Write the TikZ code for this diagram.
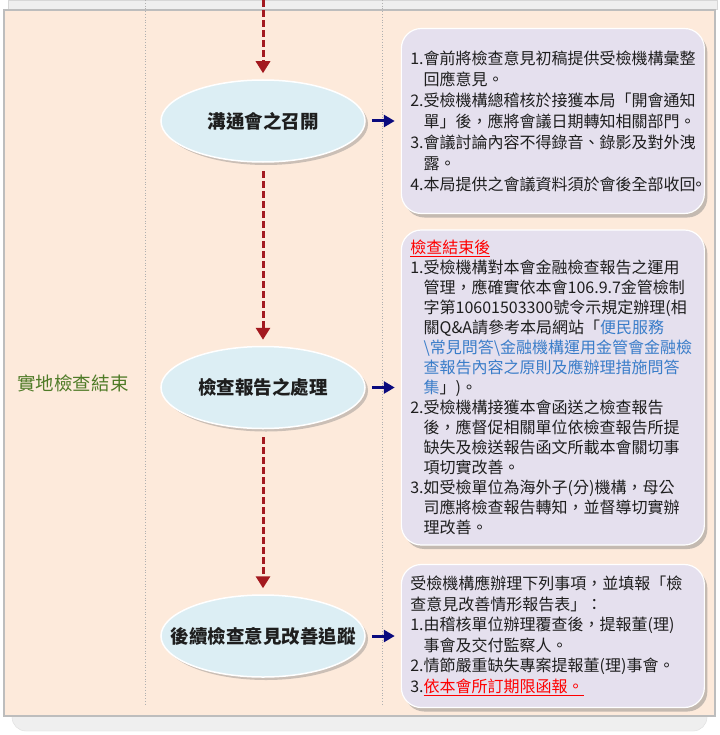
\documentclass[tikz,border=0pt]{standalone}
\usepackage{fontspec,xcolor,tikz}
\setmainfont{Noto Sans CJK TC}
\usetikzlibrary{arrows.meta,positioning,shapes.geometric,shadows}
\definecolor{peach}{HTML}{FDEADB}
\definecolor{frame}{HTML}{BDBDBD}
\definecolor{strip}{HTML}{EFEFEF}
\definecolor{lane}{HTML}{B0B0B0}
\definecolor{wine}{HTML}{A3191F}
\definecolor{navy}{HTML}{0A0A7E}
\definecolor{sky}{HTML}{DCEEF4}
\definecolor{lilac}{HTML}{E5E0EE}
\definecolor{leaf}{HTML}{4F7B27}
\definecolor{link}{HTML}{3A7DC9}
\definecolor{ink}{HTML}{1E1E1E}
\newcommand{\lnk}[1]{\textcolor{link}{#1}}
\newcommand{\ind}{\hphantom{1.}}

\begin{document}
\begin{tikzpicture}[x=1bp,y=-1bp,node distance=35bp, every node/.style={text=ink}, oval/.style={ellipse,draw=white,line width=1.5bp,fill=sky,minimum width=204bp,minimum height=82bp,inner sep=0pt,font=\fontsize{18.5bp}{22bp}\selectfont\bfseries,drop shadow={opacity=.4,shadow xshift=3bp,shadow yshift=-3bp}}, note/.style={draw=white,line width=1.2bp,rounded corners=20bp,fill=lilac,minimum width=303bp,text width=285bp,inner xsep=9bp,align=left,drop shadow={opacity=.45,shadow xshift=3bp,shadow yshift=-4bp}}, flow/.style={wine,line width=3bp,dash pattern=on 7bp off 3bp,-{Triangle[width=14bp,length=12bp]},shorten <=8bp,shorten >=6bp}, side/.style={navy,line width=3bp,-{Triangle[width=12bp,length=11bp]},shorten <=6bp,shorten >=6bp}]
\useasboundingbox (0,0) rectangle (720,735);
\fill[white] (0,0) rectangle (720,735);
\filldraw[fill=strip,draw=frame!60] (8,0) rectangle (717,9);
\filldraw[fill=strip,draw=frame!50,rounded corners=14bp] (12,705) -- (12,731) -- (707,731) -- (707,705);
\filldraw[fill=peach,draw=frame,line width=1.5bp] (4,10) rectangle (715,716);
\draw[lane,dotted,line width=.8bp] (145,0) -- (145,705) (382,0) -- (382,705);
\node[oval] (meet) at (263,121) {\makebox[0pt]{溝通會之召開}};
\node[oval,below=183bp of meet] (report) {\makebox[0pt]{檢查報告之處理}};
\node[oval,below=165bp of report] (follow) {\makebox[0pt]{後續檢查意見改善追蹤}};
\node[text=leaf,font=\fontsize{18.5bp}{22bp}\selectfont] (stage) at (73,383) {實地檢查結束};
\node[note,right=35bp of meet,minimum height=185bp,font=\fontsize{16bp}{21bp}\selectfont] (n1) {1.會前將檢查意見初稿提供受檢機構彙整\\
\ind 回應意見。\\
2.受檢機構總稽核於接獲本局「開會通知\\
\ind 單」後，應將會議日期轉知相關部門。\\
3.會議討論內容不得錄音、錄影及對外洩\\
\ind 露。\\
4.本局提供之會議資料須於會後全部收回\kern-5bp 。};
\node[note,right=35bp of report,minimum height=315bp,font=\fontsize{16bp}{20bp}\selectfont] (n2) {\textcolor{red}{\underline{檢查結束後}}\\
1.受檢機構對本會金融檢查報告之運用\\
\ind 管理，應確實依本會106.9.7金管檢制\\
\ind 字第10601503300號令示規定辦理(相\\
\ind 關Q\&A請參考本局網站「\lnk{便民服務}\\
\ind \lnk{\textbackslash 常見問答\textbackslash 金融機構運用金管會金融檢}\\
\ind \lnk{查報告內容之原則及應辦理措施問答}\\
\ind \lnk{集}」)。\\
2.受檢機構接獲本會函送之檢查報告\\
\ind 後，應督促相關單位依檢查報告所提\\
\ind 缺失及檢送報告函文所載本會關切事\\
\ind 項切實改善。\\
3.如受檢單位為海外子(分)機構，母公\\
\ind 司應將檢查報告轉知，並督導切實辦\\
\ind 理改善。};
\node[note,right=35bp of follow,minimum height=143bp,font=\fontsize{16bp}{20.5bp}\selectfont] (n3) {受檢機構應辦理下列事項，並填報「檢\\
查意見改善情形報告表」：\\
1.由稽核單位辦理覆查後，提報董(理)\\
\ind 事會及交付監察人。\\
2.情節嚴重缺失專案提報董(理)事會。\\
3.\textcolor{red}{\underline{依本會所訂期限函報。}}};
\coordinate (start) at (263,0);
\draw[flow,shorten <=0pt] (start)--(meet);\draw[flow] (meet)--(report);\draw[flow] (report)--(follow);
\draw[side] (meet)--(n1);\draw[side] (report)--(n2);\draw[side] (follow)--(n3);
\end{tikzpicture}
\end{document}
